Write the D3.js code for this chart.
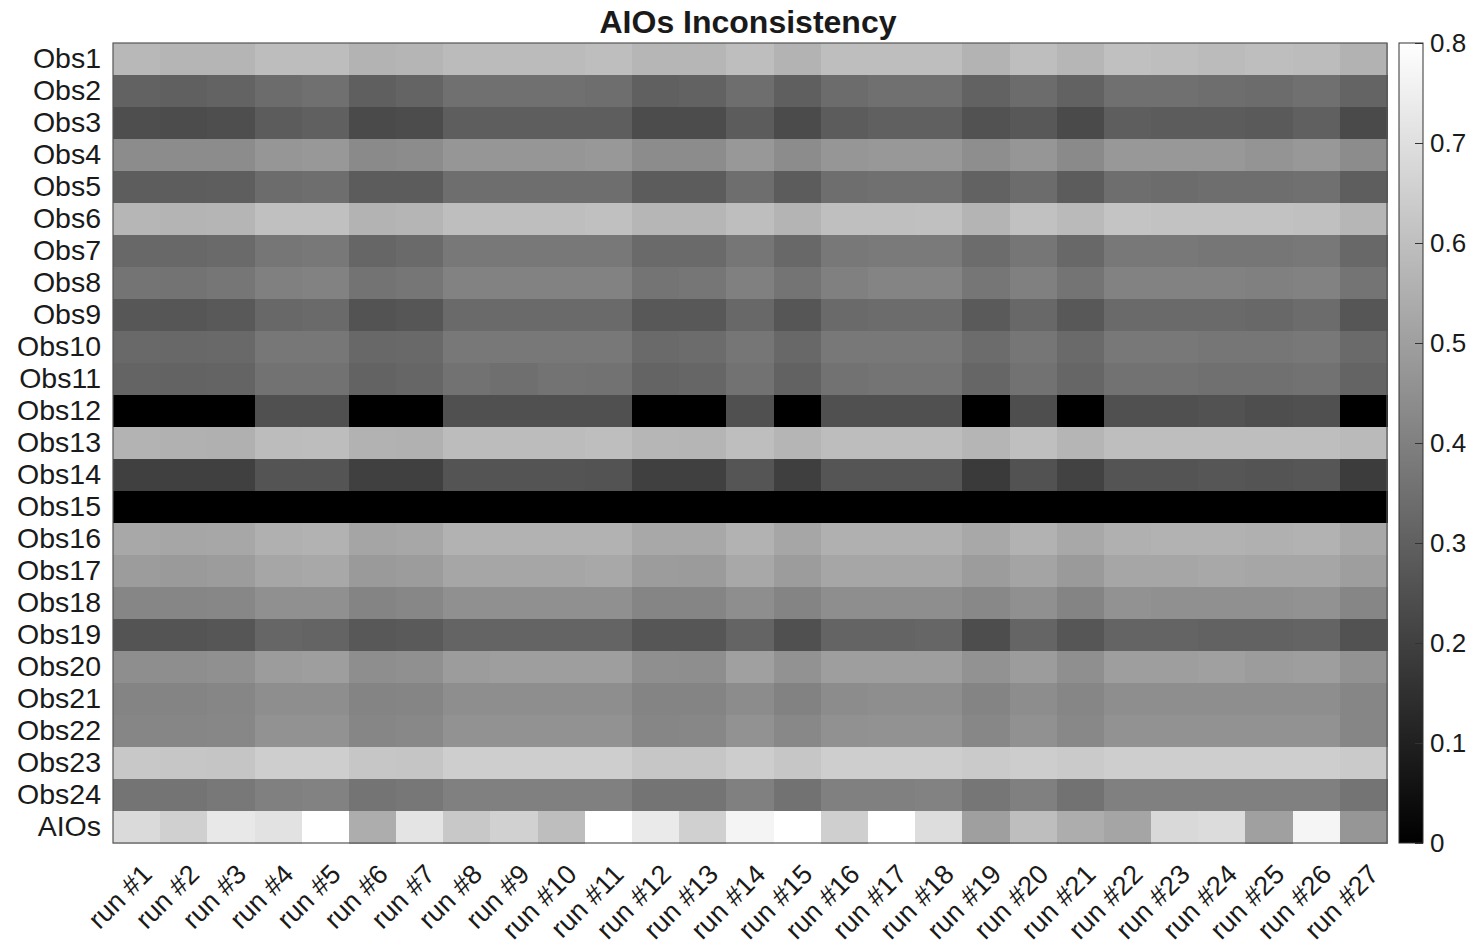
<!DOCTYPE html>
<html>
<head>
<meta charset="utf-8">
<script src="https://cdn.jsdelivr.net/npm/d3@7"></script>
<style>
  html, body { margin: 0; padding: 0; background: #fff; }
  svg { display: block; font-family: "Liberation Sans", Arial, Helvetica, sans-serif; }
</style>
</head>
<body>
<svg id="chart" width="1475" height="945"></svg>
<script>
const runs = d3.range(1, 28).map(i => "run #" + i);
const rowLabels = ["Obs1","Obs2","Obs3","Obs4","Obs5","Obs6","Obs7","Obs8","Obs9","Obs10","Obs11","Obs12","Obs13","Obs14","Obs15","Obs16","Obs17","Obs18","Obs19","Obs20","Obs21","Obs22","Obs23","Obs24","AIOs"];
const colorTicks = [0, 0.1, 0.2, 0.3, 0.4, 0.5, 0.6, 0.7, 0.8];

const obs1  = [0.577,0.568,0.568,0.593,0.593,0.562,0.568,0.587,0.587,0.587,0.596,0.571,0.571,0.596,0.562,0.596,0.596,0.596,0.562,0.596,0.571,0.602,0.596,0.587,0.596,0.590,0.558];
const obs2  = [0.307,0.301,0.311,0.339,0.351,0.298,0.314,0.351,0.351,0.351,0.345,0.301,0.307,0.345,0.298,0.339,0.351,0.351,0.307,0.339,0.307,0.351,0.351,0.345,0.339,0.351,0.314];
const obs3  = [0.245,0.238,0.245,0.289,0.301,0.232,0.238,0.295,0.295,0.295,0.295,0.238,0.238,0.289,0.235,0.289,0.301,0.301,0.257,0.276,0.232,0.295,0.289,0.289,0.282,0.301,0.232];
const obs4  = [0.439,0.439,0.439,0.471,0.477,0.433,0.439,0.471,0.471,0.471,0.477,0.439,0.439,0.477,0.439,0.471,0.477,0.477,0.445,0.471,0.433,0.477,0.477,0.477,0.464,0.477,0.439];
const obs5  = [0.292,0.292,0.295,0.339,0.345,0.289,0.289,0.345,0.345,0.345,0.345,0.289,0.289,0.345,0.289,0.345,0.351,0.351,0.307,0.339,0.289,0.345,0.339,0.345,0.345,0.351,0.295];
const obs6  = [0.571,0.565,0.568,0.602,0.602,0.562,0.568,0.596,0.596,0.596,0.602,0.571,0.571,0.596,0.565,0.599,0.599,0.602,0.565,0.605,0.584,0.615,0.609,0.609,0.609,0.602,0.571];
const obs7  = [0.326,0.326,0.333,0.370,0.376,0.320,0.333,0.376,0.376,0.376,0.376,0.333,0.333,0.370,0.326,0.376,0.383,0.383,0.339,0.370,0.326,0.376,0.376,0.370,0.370,0.376,0.326];
const obs8  = [0.364,0.361,0.370,0.402,0.408,0.361,0.370,0.408,0.408,0.408,0.408,0.364,0.370,0.402,0.364,0.402,0.414,0.414,0.370,0.402,0.364,0.408,0.408,0.408,0.402,0.408,0.364];
const obs9  = [0.273,0.270,0.279,0.326,0.333,0.260,0.270,0.333,0.333,0.333,0.333,0.276,0.276,0.326,0.270,0.333,0.339,0.339,0.282,0.326,0.276,0.333,0.333,0.333,0.326,0.339,0.270];
const obs10 = [0.329,0.326,0.329,0.373,0.373,0.326,0.329,0.376,0.376,0.376,0.376,0.333,0.339,0.370,0.326,0.376,0.376,0.376,0.339,0.370,0.333,0.376,0.376,0.370,0.370,0.376,0.333];
const obs11 = [0.314,0.311,0.314,0.358,0.358,0.311,0.320,0.358,0.348,0.361,0.358,0.314,0.320,0.358,0.307,0.358,0.364,0.364,0.320,0.358,0.320,0.358,0.358,0.351,0.351,0.358,0.314];
const obs12 = [0,0,0,0.251,0.251,0,0,0.251,0.251,0.251,0.251,0,0,0.251,0,0.251,0.251,0.251,0,0.245,0,0.251,0.251,0.257,0.245,0.251,0];
const obs13 = [0.562,0.555,0.552,0.590,0.593,0.558,0.555,0.590,0.590,0.590,0.596,0.571,0.568,0.596,0.568,0.593,0.593,0.593,0.568,0.599,0.568,0.596,0.596,0.596,0.596,0.596,0.584];
const obs14 = [0.201,0.201,0.201,0.264,0.264,0.201,0.201,0.264,0.264,0.264,0.260,0.201,0.201,0.267,0.198,0.267,0.267,0.267,0.182,0.257,0.207,0.264,0.264,0.270,0.264,0.270,0.188];
const obs15 = [0,0,0,0,0,0,0,0,0,0,0,0,0,0,0,0,0,0,0,0,0,0,0,0,0,0,0];
const obs16 = [0.527,0.521,0.524,0.552,0.558,0.518,0.524,0.558,0.558,0.558,0.558,0.527,0.527,0.558,0.521,0.552,0.552,0.552,0.527,0.558,0.527,0.552,0.558,0.558,0.552,0.558,0.527];
const obs17 = [0.489,0.483,0.489,0.521,0.527,0.483,0.489,0.521,0.521,0.521,0.527,0.489,0.486,0.527,0.489,0.521,0.521,0.521,0.489,0.515,0.483,0.521,0.521,0.527,0.521,0.521,0.496];
const obs18 = [0.420,0.420,0.424,0.452,0.452,0.414,0.424,0.452,0.452,0.452,0.452,0.417,0.417,0.445,0.414,0.445,0.445,0.445,0.427,0.452,0.414,0.458,0.452,0.452,0.452,0.458,0.420];
const obs19 = [0.264,0.264,0.270,0.320,0.314,0.276,0.282,0.314,0.314,0.314,0.314,0.270,0.270,0.314,0.251,0.314,0.314,0.320,0.242,0.317,0.270,0.314,0.314,0.307,0.307,0.314,0.257];
const obs20 = [0.445,0.445,0.452,0.489,0.496,0.445,0.452,0.489,0.496,0.496,0.496,0.449,0.445,0.502,0.458,0.496,0.496,0.496,0.458,0.489,0.449,0.496,0.496,0.502,0.489,0.496,0.458];
const obs21 = [0.414,0.414,0.420,0.445,0.445,0.414,0.417,0.445,0.445,0.445,0.445,0.414,0.414,0.439,0.408,0.439,0.445,0.445,0.414,0.442,0.420,0.445,0.445,0.445,0.445,0.445,0.420];
const obs22 = [0.420,0.420,0.424,0.458,0.458,0.420,0.427,0.458,0.458,0.458,0.458,0.420,0.424,0.458,0.427,0.455,0.458,0.458,0.424,0.455,0.427,0.458,0.458,0.458,0.458,0.458,0.420];
const obs23 = [0.627,0.621,0.618,0.646,0.646,0.621,0.618,0.646,0.646,0.646,0.646,0.621,0.621,0.643,0.621,0.646,0.646,0.646,0.634,0.643,0.634,0.646,0.646,0.646,0.646,0.646,0.634];
const obs24 = [0.364,0.364,0.376,0.402,0.408,0.364,0.373,0.402,0.402,0.402,0.402,0.364,0.364,0.402,0.358,0.402,0.402,0.408,0.370,0.402,0.358,0.402,0.402,0.402,0.402,0.402,0.364];
const aios  = [0.684,0.653,0.728,0.709,0.800,0.543,0.715,0.627,0.656,0.596,0.800,0.734,0.653,0.765,0.800,0.649,0.800,0.693,0.499,0.596,0.543,0.518,0.681,0.690,0.502,0.769,0.471];

const matrix = [obs1,obs2,obs3,obs4,obs5,obs6,obs7,obs8,obs9,obs10,obs11,obs12,obs13,obs14,obs15,obs16,obs17,obs18,obs19,obs20,obs21,obs22,obs23,obs24,aios];

const svg = d3.select("#chart");
const mLeft = 113, mRight = 1387, mTop = 43, mBottom = 843;

const x = d3.scaleBand().domain(runs).range([mLeft, mRight]).padding(0);
const y = d3.scaleBand().domain(rowLabels).range([mTop, mBottom]).padding(0);
const color = d3.scaleLinear().domain([0, 0.8]).range(["#000000", "#ffffff"]).clamp(true);

const cells = [];
matrix.forEach((row, ri) => row.forEach((v, ci) => cells.push({r: rowLabels[ri], c: runs[ci], v})));

svg.append("g").selectAll("rect").data(cells).join("rect")
  .attr("x", d => x(d.c))
  .attr("y", d => y(d.r))
  .attr("width", x.bandwidth() + 0.5)
  .attr("height", y.bandwidth() + 0.5)
  .attr("fill", d => color(d.v))
  .attr("shape-rendering", "crispEdges");

// frame
svg.append("rect").attr("x", mLeft).attr("y", mTop).attr("width", mRight-mLeft).attr("height", mBottom-mTop)
  .attr("fill", "none").attr("stroke", "#555").attr("stroke-width", 1.2);

// y axis labels
const yAxis = d3.axisLeft(y).tickSize(0).tickPadding(12);
const gy = svg.append("g").attr("transform", `translate(${mLeft},0)`).call(yAxis);
gy.select(".domain").remove();
gy.selectAll("text").attr("font-size", 28.5).attr("fill", "#1a1a1a").attr("font-family", "Liberation Sans, Arial, sans-serif");

// x axis labels
const xAxis = d3.axisBottom(x).tickSize(0);
const gx = svg.append("g").attr("transform", `translate(0,${mBottom})`).call(xAxis);
gx.select(".domain").remove();
gx.selectAll("text")
  .attr("font-size", 27).attr("fill", "#1a1a1a").attr("font-family", "Liberation Sans, Arial, sans-serif")
  .attr("text-anchor", "end").attr("dy", 0).attr("y", 0)
  .attr("transform", "translate(17,33) rotate(-45)");

// title
svg.append("text").attr("x", (mLeft+mRight)/2 - 2).attr("y", 33).attr("text-anchor", "middle")
  .attr("font-size", 32).attr("font-weight", "bold").attr("fill", "#1a1a1a")
  .text("AIOs Inconsistency");

// colorbar
const cbX = 1399, cbW = 24;
const cy = d3.scaleLinear().domain([0, 0.8]).range([mBottom, mTop]);
const defs = svg.append("defs");
const grad = defs.append("linearGradient").attr("id", "cbgrad").attr("x1", 0).attr("y1", 1).attr("x2", 0).attr("y2", 0);
grad.selectAll("stop").data(colorTicks).join("stop")
  .attr("offset", d => (d / 0.8))
  .attr("stop-color", d => color(d));
svg.append("rect").attr("x", cbX).attr("y", mTop).attr("width", cbW).attr("height", mBottom-mTop)
  .attr("fill", "url(#cbgrad)").attr("stroke", "#333").attr("stroke-width", 1);

const cAxis = d3.axisRight(cy).tickValues(colorTicks).tickFormat(d => d === 0 ? "0" : d3.format(".1f")(d)).tickSize(-8).tickPadding(7);
const gc = svg.append("g").attr("transform", `translate(${cbX+cbW},0)`).call(cAxis);
gc.select(".domain").remove();
gc.selectAll(".tick line").attr("stroke", "#333");
gc.selectAll("text").attr("font-size", 26).attr("fill", "#1a1a1a").attr("font-family", "Liberation Sans, Arial, sans-serif");
</script>
</body>
</html>
